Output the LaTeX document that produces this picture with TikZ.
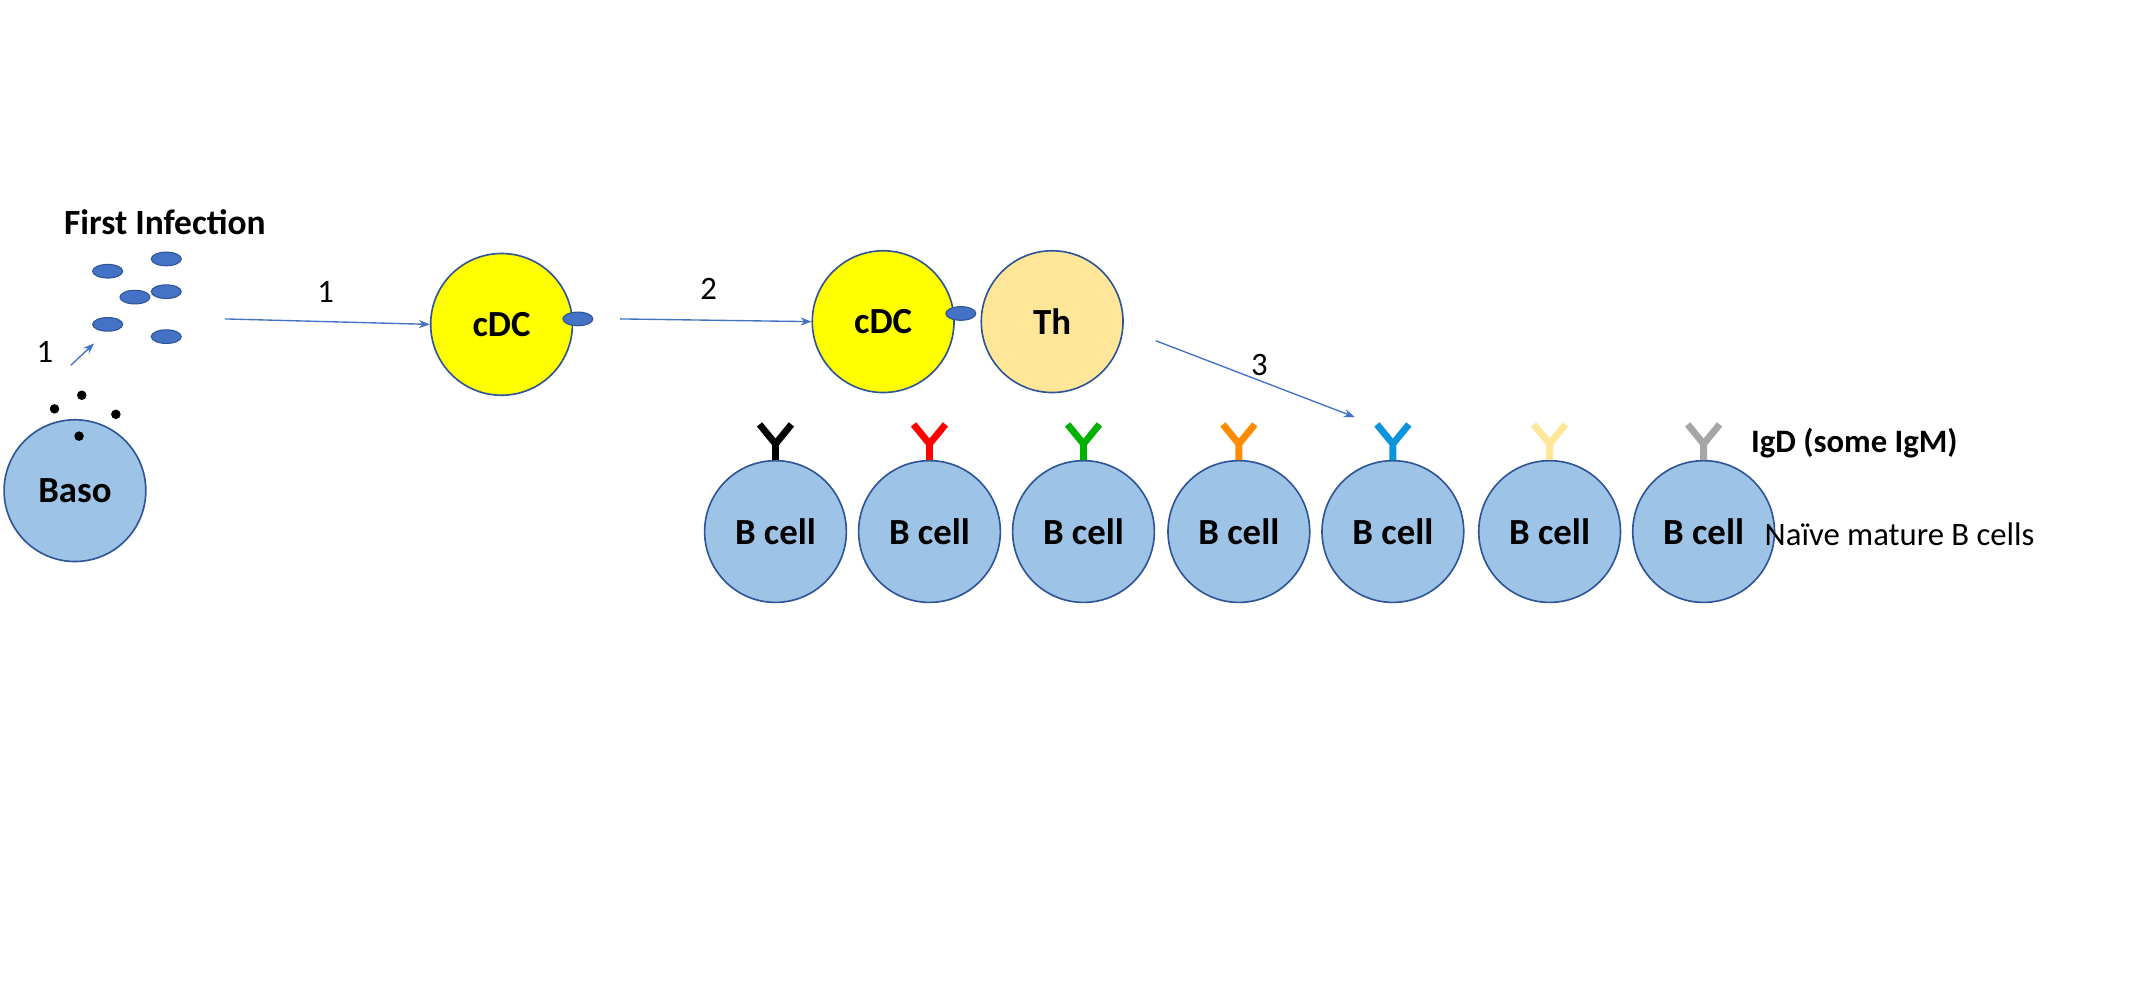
\documentclass[tikz,border=0pt]{standalone}
\usepackage{fontspec}
\setmainfont{Carlito}
\usetikzlibrary{arrows.meta,positioning,shapes.geometric}
\definecolor{cellblue}{RGB}{157,195,230}
\definecolor{edgeblue}{RGB}{47,85,151}
\definecolor{arrowblue}{RGB}{68,114,196}
\definecolor{dcyellow}{RGB}{255,255,0}
\definecolor{thorange}{RGB}{255,230,153}
\tikzset{every picture/.style={line width=1pt}}
\tikzset{
  cell/.style={circle, draw=edgeblue, line width=1.2pt, minimum size=104pt, inner sep=0pt, font=\fontsize{27}{30}\selectfont\bfseries},
  bcell/.style={cell, fill=cellblue},
  dc/.style={cell, fill=dcyellow},
  germ/.style={ellipse, draw=edgeblue, fill=arrowblue, minimum width=22pt, minimum height=10pt, inner sep=0pt, line width=0.8pt},
  flow/.style={draw=arrowblue, line width=1pt, -{Stealth[length=8pt,width=6pt]}},
  num/.style={font=\fontsize{24}{28}\selectfont},
  granule/.style={circle, fill=black, minimum size=7pt, inner sep=0pt}
}
\newcommand{\antibody}[3]{% cell, colour, size
  \draw[#2, line width=5pt] (#1.north) -- ++(0,#3*0.45)
    coordinate (fork) -- ++(-#3*0.45,#3*0.55) (fork) -- ++(#3*0.45,#3*0.55);}
\begin{document}
\begin{tikzpicture}[x=1pt,y=-1pt,every node/.style={font=\fontsize{24}{28}\selectfont}]
\useasboundingbox (0,0) rectangle (1568,734);

% pathogen
\node[font=\fontsize{26}{30}\selectfont\bfseries] (title) at (121,163) {First Infection};
\foreach \i/\x/\y in {1/79/199,2/122/190,3/99/218,4/122/214,5/79/238,6/122/247}
  \node[germ] (g\i) at (\x,\y) {};

% basophil
\node[bcell] (baso) at (55,360) {Baso};
\foreach \i/\x/\y in {1/40/300,2/60/290,3/85/304,4/58/320}
  \node[granule] (d\i) at (\x,\y) {};
\coordinate (b1) at (52,268);
\coordinate (b2) at (69,252);
\draw[flow] (b1) -- (b2);
\node[num] (n0) at (33,258) {1};

% dendritic cells
\node[dc] (dc1) at (368,238) {cDC};
\node[germ] (g7) at (424,234) {};
\node[dc] (dc2) at (648,236) {cDC};
\node[germ] (g8) at (705,230) {};
\node[cell, fill=thorange] (th) at (772,236) {Th};

\coordinate (a1) at (165,234);
\draw[flow] (a1) -- (dc1.west);
\node[num] (n1) at (239,214) {1};
\coordinate (a2) at (455,234);
\draw[flow] (a2) -- (dc2.west);
\node[num] (n2) at (520,212) {2};
\coordinate (a3) at (848,250);
\coordinate (a4) at (994,306);
\draw[flow] (a3) -- (a4);
\node[num] (n3) at (924,268) {3};

% naive B cells
\foreach \i/\x/\col in {1/569/black,2/682/red,3/795/green!70!black,4/909/orange!90!yellow,5/1022/cyan!80!blue,6/1137/thorange,7/1250/gray!70}
{
  \node[bcell] (bc\i) at (\x,390) {B cell};
  \antibody{bc\i}{\col}{-26}
}
\node[font=\fontsize{24}{28}\selectfont\bfseries, anchor=west] (igd) at (1281,325) {IgD (some IgM)};
\node[anchor=west] (naive) at (1291,392) {Naïve mature B cells};
\end{tikzpicture}
\end{document}
